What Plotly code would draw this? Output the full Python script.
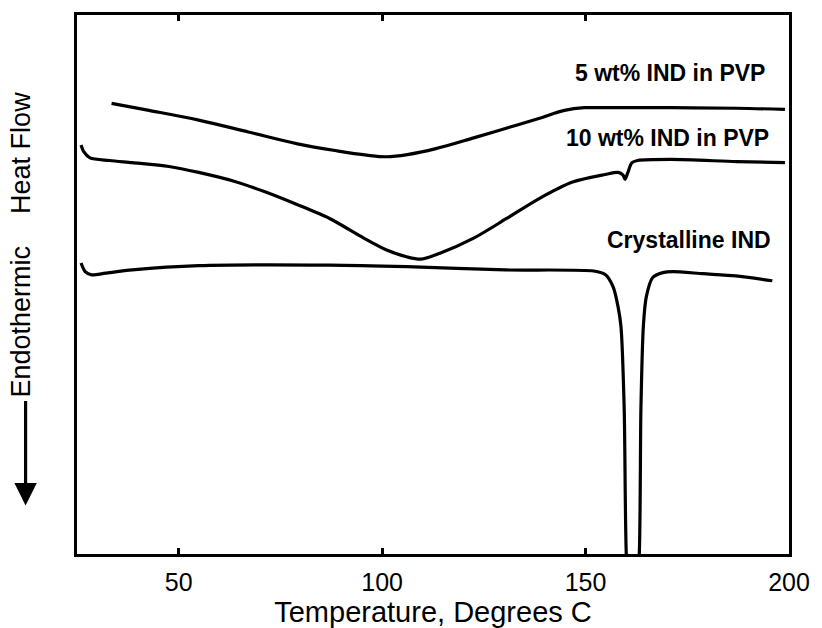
import plotly.graph_objects as go

# Temperature (deg C) and heat flow (arbitrary units, 0-100 axis)
t_5wt = [33.5, 42.7, 54.9, 67.1, 79.2, 88.9, 96.2, 101.1, 106.2, 113.2, 122.5, 130.5, 138.5, 144.8,
         149.7, 154.8, 171.1, 187.1, 199.0]
hf_5wt = [83.6, 82.3, 80.5, 78.3, 76.1, 74.8, 74.0, 73.7, 74.1, 75.2, 77.2, 79.0, 80.8, 82.3,
          82.8, 82.8, 82.8, 82.7, 82.5]

t_10wt = [26.0, 26.7, 28.2, 33.0, 38.6, 47.6, 54.9, 63.4, 71.2, 79.2, 87.2, 95.5, 101.1, 106.2, 109.6,
          114.2, 122.5, 130.5, 138.5, 146.8, 154.8, 158.0, 159.2, 159.7, 160.4, 161.4, 162.8, 171.1,
          187.1, 199.0]
hf_10wt = [75.9, 74.6, 73.5, 73.0, 72.6, 71.9, 70.8, 69.2, 67.2, 64.8, 62.2, 58.6, 56.4, 55.1, 54.7,
           55.8, 58.6, 62.2, 65.9, 69.0, 70.4, 70.8, 70.3, 69.5, 70.8, 72.6, 73.0, 73.2,
           72.8, 72.6]

t_cryst = [26.0, 27.0, 28.6, 32.0, 38.6, 54.9, 87.1, 106.1, 130.3, 152.0, 154.9, 156.8, 158.0, 158.7,
           159.5, 160.0, 161.5, 163.2, 163.6, 164.2, 164.9, 166.5, 169.0, 171.4, 178.9, 186.9, 195.9]
hf_cryst = [54.0, 52.4, 51.8, 52.1, 52.7, 53.5, 53.6, 53.3, 52.7, 52.5, 51.8, 49.5, 45.8, 42.2,
            26.8, 0.0, -20.0, 0.0, 26.8, 42.2, 47.6, 51.3, 52.2, 52.4, 52.0, 51.6, 50.7]

labels = ["5 wt% IND in PVP", "10 wt% IND in PVP", "Crystalline IND"]
label_x = [194.6, 195.6, 196.0]
label_y = [89.2, 77.2, 58.2]

x_ticks = [50, 100, 150, 200]

FONT = "Liberation Sans, Arial, Helvetica, sans-serif"

fig = go.Figure()
series = [(t_5wt, hf_5wt, labels[0], 1.0), (t_10wt, hf_10wt, labels[1], 0.8),
          (t_cryst, hf_cryst, labels[2], 0.7)]
for t, hf, name, sm in series:
    fig.add_trace(go.Scatter(x=t, y=hf, mode="lines", name=name,
                             line=dict(color="black", width=3.2, shape="spline", smoothing=sm),
                             showlegend=False, hoverinfo="skip"))

for txt, lx, ly in zip(labels, label_x, label_y):
    fig.add_annotation(x=lx, y=ly, xref="x", yref="y", text=f"<b>{txt}</b>", showarrow=False,
                       xanchor="right", yanchor="middle",
                       font=dict(family=FONT, size=23, color="black"))

# Y axis title pieces (rotated) and arrow
fig.add_annotation(x=-0.078, y=0.745, xref="paper", yref="paper", text="Heat Flow", showarrow=False,
                   textangle=-90, xanchor="center", yanchor="middle",
                   font=dict(family=FONT, size=27, color="black"))
fig.add_annotation(x=-0.078, y=0.432, xref="paper", yref="paper", text="Endothermic", showarrow=False,
                   textangle=-90, xanchor="center", yanchor="middle",
                   font=dict(family=FONT, size=27, color="black"))
fig.add_annotation(x=-0.0722, y=0.09, xref="paper", yref="paper", text="", showarrow=True,
                   axref="pixel", ayref="pixel", ax=0, ay=-106,
                   arrowhead=2, arrowsize=1.4, arrowwidth=3.2, arrowcolor="black")

fig.update_layout(
    width=822, height=628,
    margin=dict(l=77, r=25, t=13, b=67),
    paper_bgcolor="white", plot_bgcolor="white",
    font=dict(family=FONT, color="black"),
    xaxis=dict(range=[25, 200], tickvals=x_ticks, ticktext=[str(v) for v in x_ticks],
               ticks="inside", ticklen=6, tickwidth=3, tickcolor="black",
               showline=True, linecolor="black", linewidth=3, mirror="ticks",
               showgrid=False, zeroline=False, ticklabelstandoff=4,
               tickfont=dict(family=FONT, size=25, color="black"),
               title=dict(text="Temperature, Degrees C", standoff=0,
                          font=dict(family=FONT, size=29, color="black"))),
    yaxis=dict(range=[0, 100], showticklabels=False, ticks="",
               showline=True, linecolor="black", linewidth=3, mirror=True,
               showgrid=False, zeroline=False),
)

fig.write_html("out.html")
